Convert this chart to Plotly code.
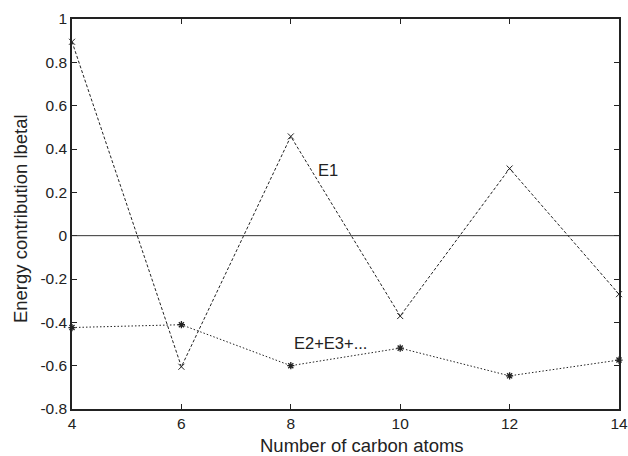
import plotly.graph_objects as go

carbon_atoms = [4, 6, 8, 10, 12, 14]
e1_values = [0.895, -0.605, 0.458, -0.371, 0.31, -0.27]
e2_values = [-0.424, -0.411, -0.6, -0.519, -0.647, -0.574]

x_ticks = [4, 6, 8, 10, 12, 14]
y_ticks = [1, 0.8, 0.6, 0.4, 0.2, 0, -0.2, -0.4, -0.6, -0.8]
y_tick_labels = ["1", "0.8", "0.6", "0.4", "0.2", "0", "-0.2", "-0.4", "-0.6", "-0.8"]

font_family = "Liberation Sans, Arial, Helvetica, sans-serif"
ink = "#222222"

fig = go.Figure()

fig.add_trace(go.Scatter(
    x=carbon_atoms, y=e1_values, mode="lines+markers",
    line=dict(color=ink, width=1, dash="3px,2px"),
    marker=dict(symbol="x-thin-open", size=6, line=dict(color=ink, width=1)),
    cliponaxis=False, showlegend=False,
))
fig.add_trace(go.Scatter(
    x=carbon_atoms, y=e2_values, mode="lines+markers",
    line=dict(color=ink, width=1, dash="1.5px,2px"),
    marker=dict(symbol="asterisk-open", size=6, line=dict(color=ink, width=1.3)),
    cliponaxis=False, showlegend=False,
))

fig.add_shape(type="line", xref="x", yref="y", x0=4, x1=14, y0=0, y1=0,
              line=dict(color="#333333", width=1))

fig.add_annotation(x=8.68, y=0.305, text="E1", showarrow=False,
                   font=dict(size=16.5, color=ink, family=font_family))
fig.add_annotation(x=8.72, y=-0.497, text="E2+E3+...", showarrow=False,
                   font=dict(size=16.5, color=ink, family=font_family))

# axis titles placed as paper annotations
fig.add_annotation(xref="paper", yref="paper", x=0.53, y=-0.093, yanchor="middle",
                   text="Number of carbon atoms", showarrow=False,
                   font=dict(size=18.5, color=ink, family=font_family))
fig.add_annotation(xref="paper", yref="paper", x=-0.095, y=0.487, xanchor="center",
                   text="Energy contribution lbetal", showarrow=False, textangle=-90,
                   font=dict(size=18.5, color=ink, family=font_family))

axis_common = dict(
    showgrid=False, zeroline=False, showline=True, linecolor=ink, linewidth=1.5,
    mirror="ticks", ticks="inside", ticklen=5, tickcolor=ink, tickwidth=1,
    tickfont=dict(size=15.5, color=ink, family=font_family), automargin=False,
    ticklabeloverflow="allow",
)

fig.update_xaxes(range=[4, 14], tickvals=x_ticks, **axis_common)
fig.update_yaxes(range=[-0.8, 1], tickvals=y_ticks, ticktext=y_tick_labels, **axis_common)

fig.update_layout(
    width=628, height=456,
    margin=dict(l=72, r=9, t=19, b=47),
    plot_bgcolor="white", paper_bgcolor="white",
    font=dict(family=font_family),
)

fig.write_html("out.html", config={"displayModeBar": False},
               post_script="document.body.style.margin='0';document.body.style.overflow='hidden';")
